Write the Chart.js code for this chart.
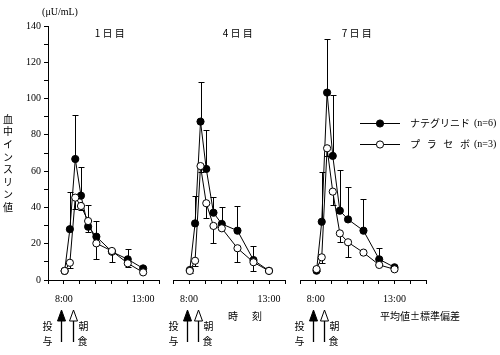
<!DOCTYPE html>
<html><head><meta charset="utf-8">
<script src="https://cdn.jsdelivr.net/npm/chart.js@4"></script>
<style>
html,body{margin:0;padding:0;background:#fff;}
#wrap{position:relative;width:500px;height:355px;overflow:hidden;}
canvas{position:absolute;left:0;top:0;}
</style></head><body>
<div id="wrap">
<canvas id="c1" width="500" height="355"></canvas>
<canvas id="c2" width="500" height="355"></canvas>
<canvas id="c3" width="500" height="355"></canvas>
</div>
<script>
// sampling times (hours of day)
const sampleTimes = [8.05, 8.38, 8.72, 9.08, 9.53, 10.05, 11.03, 12.03, 13.0];
const doseTime = 7.85;
const mealTime = 8.55;
const xTickLabels = {8: '8:00', 13: '13:00'};
const panelTitles = ['1 日 目', '4 日 目', '7 日 目'];
const seriesNames = ['ナテグリニド', 'プラセボ'];
const seriesN = ['(n=6)', '(n=3)'];

// mean values (μU/mL); SD: positive = bar drawn upward, negative = downward
const day1Nateglinide   = [5, 28, 66.7, 46.5, 29.4, 23.9, 15.6, 11.4, 6.4];
const day1NateglinideSD = [0, 20.5, 24.5, 16, -3, 8.6, -5.5, 5.5, 0];
const day1Placebo       = [5, 9.5, 45.4, 40.8, 32.5, 20.2, 16, 9.2, 4.2];
const day1PlaceboSD     = [0, -3, -6, -2, 9, -8.6, 0, -2, 0];

const day4Nateglinide   = [5.5, 31.2, 87.3, 61.2, 37.1, 30.9, 27.2, 11, 5.1];
const day4NateglinideSD = [0, 15, 21.8, 21.5, 8.8, 9.5, 13.6, 7.7, 0];
const day4Placebo       = [5, 10.6, 62.8, 42.3, 29.8, 28.5, 17.5, 9.8, 5];
const day4PlaceboSD     = [-1, -3, -3, -8, -9.6, 0, -7.7, -5, 0];

const day7Nateglinide   = [5.1, 32.1, 103.3, 68.4, 38.2, 33.4, 27.2, 11.4, 7];
const day7NateglinideSD = [0, 27.6, 29.6, 33.6, 22.4, 18, 17.3, 6.4, 0];
const day7Placebo       = [6, 12.5, 72.6, 48.7, 25.7, 20.8, 15.1, 8.3, 5.9];
const day7PlaceboSD     = [-1, -3, -4, -7.4, -4.6, -8.3, 0, 0, 0];

const SERIF = '"Liberation Serif", "DejaVu Serif", serif';
const JP = '"Noto Sans CJK JP", "Noto Sans", sans-serif';

const errorBarPlugin = {
  id: 'errbars',
  beforeDatasetsDraw(chart) {
    const ctx = chart.ctx, xs = chart.scales.x, ys = chart.scales.y;
    ctx.save();
    ctx.strokeStyle = '#000';
    ctx.lineWidth = 1;
    chart.data.datasets.forEach(ds => {
      ds.data.forEach((p, i) => {
        const sd = ds.sd[i];
        if (!sd) return;
        const x = Math.round(xs.getPixelForValue(p.x)) + 0.5;
        const y0 = ys.getPixelForValue(p.y);
        const y1 = Math.round(ys.getPixelForValue(p.y + sd)) + 0.5;
        ctx.beginPath();
        ctx.moveTo(x, y0); ctx.lineTo(x, y1);
        ctx.moveTo(x - 3, y1); ctx.lineTo(x + 3, y1);
        ctx.stroke();
      });
    });
    ctx.restore();
  }
};

function drawArrow(ctx, x, filled) {
  const tip = 310, headB = 321, bottom = 342;
  ctx.save();
  ctx.strokeStyle = '#000'; ctx.fillStyle = filled ? '#000' : '#fff';
  ctx.lineWidth = 1.3;
  ctx.beginPath();
  ctx.moveTo(x, headB); ctx.lineTo(x, bottom); ctx.stroke();
  ctx.lineWidth = 1;
  ctx.beginPath();
  ctx.moveTo(x, tip); ctx.lineTo(x - 4, headB); ctx.lineTo(x + 4, headB); ctx.closePath();
  ctx.fill(); ctx.stroke();
  ctx.restore();
}

const annotPlugin = {
  id: 'annot',
  afterDraw(chart) {
    const o = chart.options.plugins.annot;
    const ctx = chart.ctx, xs = chart.scales.x, ys = chart.scales.y;
    ctx.save();
    ctx.fillStyle = '#000';
    ctx.textBaseline = 'middle';
    ctx.textAlign = 'center';
    // panel title
    ctx.font = '10px ' + JP;
    ctx.fillText(o.title, xs.getPixelForValue(o.titleAt), 33);
    // arrows
    const xd = Math.round(xs.getPixelForValue(doseTime)) + 0.5;
    const xm = Math.round(xs.getPixelForValue(mealTime)) + 0.5;
    drawArrow(ctx, xd, true);
    drawArrow(ctx, xm, false);
    ctx.font = '10px ' + JP;
    ctx.fillText('投', xd - 14, 326);
    ctx.fillText('与', xd - 14, 341);
    ctx.fillText('朝', xm + 10, 326);
    ctx.fillText('食', xm + 9, 341);

    if (o.main) {
      // unit
      ctx.font = '10px ' + SERIF;
      ctx.fillText('(μU/mL)', 60, 12);
      // vertical axis title
      ctx.font = '10px ' + JP;
      const yl = '血中インスリン値';
      for (let i = 0; i < yl.length; i++) ctx.fillText(yl[i], 8, 119 + i * 12.6);
      // bottom texts
      ctx.fillText('時', 233, 316);
      ctx.fillText('刻', 257, 316);
      ctx.textAlign = 'left';
      ctx.fillText('平均値±標準偏差', 380, 316);
      // legend
      const rows = [{y: 123, fill: '#000'}, {y: 144, fill: '#fff'}];
      rows.forEach((r, k) => {
        ctx.strokeStyle = '#000'; ctx.lineWidth = 1;
        ctx.beginPath(); ctx.moveTo(360, r.y + 0.5); ctx.lineTo(400, r.y + 0.5); ctx.stroke();
        ctx.beginPath(); ctx.arc(380, r.y + 0.5, 3.6, 0, Math.PI * 2);
        ctx.fillStyle = r.fill; ctx.fill(); ctx.stroke();
        ctx.fillStyle = '#000';
        ctx.font = '10px ' + JP;
        ctx.textAlign = 'left';
        const name = seriesNames[k];
        if (k === 0) {
          ctx.fillText(name, 410, r.y);
        } else {
          const pitch = 50 / (name.length - 1);
          for (let i = 0; i < name.length; i++) ctx.fillText(name[i], 410 + i * pitch, r.y);
        }
        ctx.font = '10px ' + SERIF;
        ctx.fillText(seriesN[k], 474, r.y);
      });
    }
    ctx.restore();
  }
};

function makePanel(id, nate, nateSD, plac, placSD, xMax, main, padL, padR, title, titleAt) {
  const toPts = arr => arr.map((v, i) => ({x: sampleTimes[i], y: v}));
  return new Chart(document.getElementById(id), {
    type: 'line',
    data: {
      datasets: [
        {label: seriesNames[1], data: toPts(plac), sd: placSD, borderColor: '#000', borderWidth: 1,
         pointRadius: 3.6, pointBackgroundColor: '#fff', pointBorderColor: '#000', pointBorderWidth: 1,
         tension: 0, clip: false},
        {label: seriesNames[0], data: toPts(nate), sd: nateSD, borderColor: '#000', borderWidth: 1,
         pointRadius: 3.6, pointBackgroundColor: '#000', pointBorderColor: '#000', pointBorderWidth: 1,
         tension: 0, clip: false}
      ]
    },
    options: {
      responsive: false, animation: false, devicePixelRatio: 1,
      events: [],
      layout: {padding: {top: 26, bottom: 45, left: padL, right: padR}},
      plugins: {legend: {display: false}, tooltip: {enabled: false},
                annot: {main, title, titleAt}},
      scales: {
        x: {
          type: 'linear', min: 7, max: xMax,
          afterFit: s => { s.height = 30; },
          ticks: {stepSize: 1, autoSkip: false, maxRotation: 0, padding: 9,
                  color: '#000', font: {family: SERIF, size: 10},
                  callback: v => xTickLabels[v] || ''},
          grid: {display: true, drawOnChartArea: false, drawTicks: true, tickLength: 4, color: '#000'},
          border: {display: true, color: '#000', width: 1}
        },
        y: {
          display: main, min: 0, max: 140,
          afterFit: s => { s.width = main ? 48 : 0; },
          ticks: {stepSize: 10, autoSkip: false, padding: 3, color: '#000',
                  font: {family: SERIF, size: 10},
                  callback: v => (v % 20 === 0 ? String(v) : '')},
          grid: {display: true, drawOnChartArea: false, drawTicks: true, tickLength: 4, color: '#000'},
          border: {display: true, color: '#000', width: 1}
        }
      }
    },
    plugins: [errorBarPlugin, annotPlugin]
  });
}

makePanel('c1', day1Nateglinide, day1NateglinideSD, day1Placebo, day1PlaceboSD, 14, true, 0, 341, panelTitles[0], 10.9);
makePanel('c2', day4Nateglinide, day4NateglinideSD, day4Placebo, day4PlaceboSD, 14, false, 173, 215, panelTitles[1], 11.05);
makePanel('c3', day7Nateglinide, day7NateglinideSD, day7Placebo, day7PlaceboSD, 15, false, 300, 74, panelTitles[2], 10.6);
</script>
</body></html>
